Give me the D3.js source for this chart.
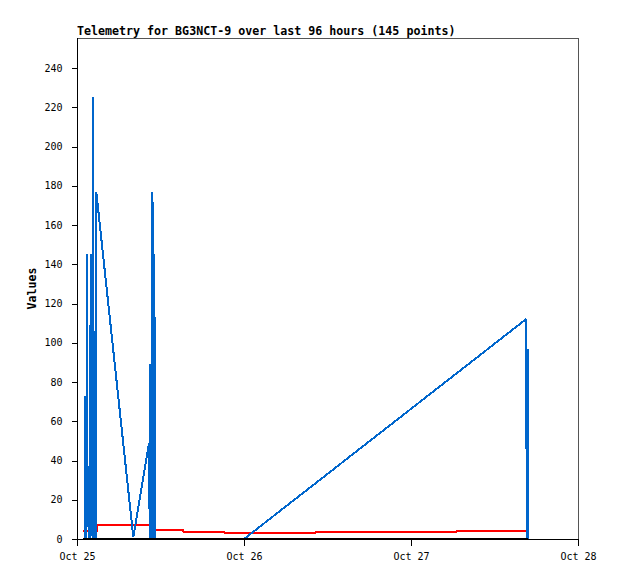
<!DOCTYPE html>
<html>
<head>
<meta charset="utf-8">
<script src="https://cdn.jsdelivr.net/npm/d3@7"></script>
<style>
  html, body { margin: 0; padding: 0; background: #fff; }
  svg { display: block; }
  text { font-family: "DejaVu Sans Mono", "Liberation Mono", monospace; }
</style>
</head>
<body>
<svg id="chart" width="618" height="579"></svg>
<script>
// ---- data (hours since Oct 25 00:00) ----
const titleText = "Telemetry for BG3NCT-9 over last 96 hours (145 points)";
const yLabel = "Values";
const xTickHours = [0, 24, 48, 72];
const xTickLabels = ["Oct 25", "Oct 26", "Oct 27", "Oct 28"];
const yTickValues = [0, 20, 40, 60, 80, 100, 120, 140, 160, 180, 200, 220, 240];

const blueTimes = [0.86, 1.12, 1.16, 1.24, 1.34, 1.41, 1.49, 1.58, 1.67, 1.81, 1.90, 1.97, 2.08, 2.16, 2.24, 2.33, 2.41, 2.67, 2.77,
  8.09, 10.35, 10.41, 10.46, 10.53, 10.62, 10.75, 10.85, 10.93, 11.02, 11.10, 11.19, 11.28,
  24.0, 64.53, 64.65, 64.79, 64.86];
const blueValues = [0, 0, 73, 25, 0, 145, 20, 37, 0, 0, 109, 30, 145, 12, 0, 225, 0, 0, 177,
  1, 49, 20, 0, 89, 0, 0, 177, 0, 145, 0, 113, 0,
  0, 112, 0, 97, 0];

const redTimes = [0.86, 2.85, 2.92, 10.47, 10.55, 15.23, 15.30, 21.13, 21.20, 34.20, 34.28, 54.47, 54.55, 64.53];
const redValues = [4.0, 4.0, 7.3, 7.3, 4.6, 4.6, 3.8, 3.8, 3.1, 3.1, 3.6, 3.6, 4.3, 4.3];

const blackTimes = [0.86, 64.86];
const blackValues = [0, 0];

// ---- layout ----
const L = 77, R = 578, T = 38, B = 539;
const svg = d3.select("#chart");

const x = d3.scaleLinear().domain([0, 72]).range([L, R]);
const y = d3.scaleLinear().domain([0, 255.3]).range([B, T]);

// frame
svg.append("rect")
  .attr("x", L + 0.5).attr("y", T + 0.5)
  .attr("width", R - L).attr("height", B - T)
  .attr("fill", "none").attr("stroke", "#555").attr("stroke-width", 1)
  .attr("shape-rendering", "crispEdges");

// series
function drawSeries(times, values, color, width) {
  const pts = times.map((t, i) => [t, values[i]]);
  const line = d3.line().x(d => x(d[0])).y(d => y(d[1]));
  svg.append("path")
    .datum(pts)
    .attr("d", line)
    .attr("fill", "none")
    .attr("stroke", color)
    .attr("stroke-width", width)
    .attr("stroke-linejoin", "bevel")
    .attr("stroke-linecap", "butt")
    .attr("shape-rendering", "crispEdges");
}
drawSeries(redTimes, redValues, "#ff0000", 2);
drawSeries(blueTimes, blueValues, "#0066cc", 2);
drawSeries(blackTimes, blackValues, "#000000", 2);

// axes
const yAxis = d3.axisLeft(y).tickValues(yTickValues).tickSize(6).tickPadding(9).tickFormat(d3.format("d"));
const gy = svg.append("g").attr("transform", `translate(${L + 0.5},0)`).call(yAxis);
gy.select(".domain").remove();
gy.selectAll("line").attr("stroke", "#000").attr("shape-rendering", "crispEdges");
gy.selectAll("text").attr("font-size", 10).attr("fill", "#000")
  .attr("font-family", "'DejaVu Sans Mono', monospace");

const xAxis = d3.axisBottom(x).tickValues(xTickHours).tickSize(6).tickPadding(7)
  .tickFormat((d, i) => xTickLabels[i]);
const gx = svg.append("g").attr("transform", `translate(0,${B + 0.5})`).call(xAxis);
gx.select(".domain").remove();
gx.selectAll("line").attr("stroke", "#000").attr("shape-rendering", "crispEdges");
gx.selectAll("text").attr("font-size", 10).attr("fill", "#000")
  .attr("font-family", "'DejaVu Sans Mono', monospace");

// axis lines (left & bottom black)
svg.append("line").attr("x1", L + 0.5).attr("x2", L + 0.5).attr("y1", T).attr("y2", B + 1)
  .attr("stroke", "#000").attr("shape-rendering", "crispEdges");
svg.append("line").attr("x1", L).attr("x2", R + 1).attr("y1", B + 0.5).attr("y2", B + 0.5)
  .attr("stroke", "#000").attr("shape-rendering", "crispEdges");

// title
svg.append("text")
  .attr("x", L).attr("y", 35)
  .attr("font-size", 11.65).attr("font-weight", "bold").attr("fill", "#000")
  .text(titleText);

// y label
svg.append("text")
  .attr("transform", `translate(36,${(T + B) / 2}) rotate(-90)`)
  .attr("text-anchor", "middle")
  .attr("font-size", 11.6).attr("font-weight", "bold").attr("fill", "#000")
  .text(yLabel);
</script>
</body>
</html>
